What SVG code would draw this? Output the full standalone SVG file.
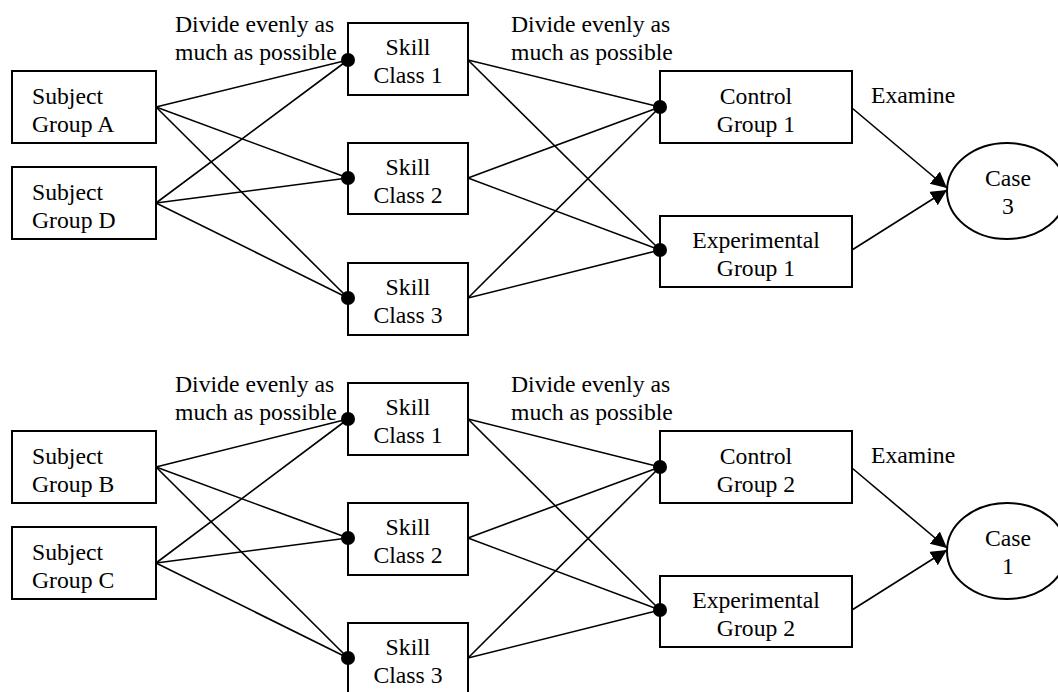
<svg xmlns="http://www.w3.org/2000/svg" width="1058" height="692" viewBox="0 0 1058 692">
  <defs>
    <style>
      .box { fill: #fff; stroke: #000; stroke-width: 2; }
      .lbl { font-family: "Liberation Serif", "Times New Roman", serif; font-size: 23.7px; fill: #000; }
      .mid { text-anchor: middle; }
      .wire { stroke: #000; stroke-width: 1.6; fill: none; }
      .dot { fill: #000; }
    </style>
    <marker id="arrow" markerUnits="userSpaceOnUse" markerWidth="18" markerHeight="18" refX="16" refY="8" orient="auto">
      <path d="M0,0 L16,8 L0,16 z" fill="#000"/>
    </marker>
  </defs>
  <rect width="1058" height="692" fill="#fff"/>

  <!-- edge labels -->
  <g id="labels" class="lbl">
    <text x="175" y="32">Divide evenly as</text>
    <text x="175" y="60">much as possible</text>
    <text x="511" y="32">Divide evenly as</text>
    <text x="511" y="60">much as possible</text>
    <text x="871" y="103">Examine</text>
    <text x="175" y="392">Divide evenly as</text>
    <text x="175" y="420">much as possible</text>
    <text x="511" y="392">Divide evenly as</text>
    <text x="511" y="420">much as possible</text>
    <text x="871" y="463">Examine</text>
  </g>

  <!-- upper network nodes -->
  <g id="subject-a">
    <rect class="box" x="12" y="71" width="144" height="72"/>
    <text class="lbl" x="32" y="104">Subject</text>
    <text class="lbl" x="32" y="132">Group A</text>
  </g>
  <g id="subject-d">
    <rect class="box" x="12" y="167" width="144" height="72"/>
    <text class="lbl" x="32" y="200">Subject</text>
    <text class="lbl" x="32" y="228">Group D</text>
  </g>
  <g id="skill-1-top">
    <rect class="box" x="348" y="23" width="120" height="72"/>
    <text class="lbl mid" x="408" y="55">Skill</text>
    <text class="lbl mid" x="408" y="83">Class 1</text>
  </g>
  <g id="skill-2-top">
    <rect class="box" x="348" y="143" width="120" height="71"/>
    <text class="lbl mid" x="408" y="175">Skill</text>
    <text class="lbl mid" x="408" y="203">Class 2</text>
  </g>
  <g id="skill-3-top">
    <rect class="box" x="348" y="263" width="120" height="72"/>
    <text class="lbl mid" x="408" y="295">Skill</text>
    <text class="lbl mid" x="408" y="323">Class 3</text>
  </g>
  <g id="control-1">
    <rect class="box" x="660" y="71" width="192" height="72"/>
    <text class="lbl mid" x="756" y="104">Control</text>
    <text class="lbl mid" x="756" y="132">Group 1</text>
  </g>
  <g id="experimental-1">
    <rect class="box" x="660" y="216" width="192" height="71"/>
    <text class="lbl mid" x="756" y="248">Experimental</text>
    <text class="lbl mid" x="756" y="276">Group 1</text>
  </g>
  <g id="case-3">
    <ellipse class="box" cx="1007" cy="191" rx="60" ry="48"/>
    <text class="lbl mid" x="1008" y="186">Case</text>
    <text class="lbl mid" x="1008" y="214">3</text>
  </g>

  <!-- lower network nodes -->
  <g id="subject-b">
    <rect class="box" x="12" y="431" width="144" height="72"/>
    <text class="lbl" x="32" y="464">Subject</text>
    <text class="lbl" x="32" y="492">Group B</text>
  </g>
  <g id="subject-c">
    <rect class="box" x="12" y="527" width="144" height="72"/>
    <text class="lbl" x="32" y="560">Subject</text>
    <text class="lbl" x="32" y="588">Group C</text>
  </g>
  <g id="skill-1-bottom">
    <rect class="box" x="348" y="383" width="120" height="72"/>
    <text class="lbl mid" x="408" y="415">Skill</text>
    <text class="lbl mid" x="408" y="443">Class 1</text>
  </g>
  <g id="skill-2-bottom">
    <rect class="box" x="348" y="503" width="120" height="72"/>
    <text class="lbl mid" x="408" y="535">Skill</text>
    <text class="lbl mid" x="408" y="563">Class 2</text>
  </g>
  <g id="skill-3-bottom">
    <rect class="box" x="348" y="623" width="120" height="72"/>
    <text class="lbl mid" x="408" y="655">Skill</text>
    <text class="lbl mid" x="408" y="683">Class 3</text>
  </g>
  <g id="control-2">
    <rect class="box" x="660" y="431" width="192" height="72"/>
    <text class="lbl mid" x="756" y="464">Control</text>
    <text class="lbl mid" x="756" y="492">Group 2</text>
  </g>
  <g id="experimental-2">
    <rect class="box" x="660" y="576" width="192" height="71"/>
    <text class="lbl mid" x="756" y="608">Experimental</text>
    <text class="lbl mid" x="756" y="636">Group 2</text>
  </g>
  <g id="case-1">
    <ellipse class="box" cx="1007" cy="551" rx="60" ry="48"/>
    <text class="lbl mid" x="1008" y="546">Case</text>
    <text class="lbl mid" x="1008" y="574">1</text>
  </g>

  <!-- connectors, drawn over the node outlines so the end dots stay whole -->
  <g id="connectors">
    <!-- upper network: subject groups to skill classes -->
    <line class="wire" x1="156" y1="107" x2="348" y2="60"/>
    <line class="wire" x1="156" y1="107" x2="348" y2="178"/>
    <line class="wire" x1="156" y1="107" x2="348" y2="298"/>
    <line class="wire" x1="156" y1="203" x2="348" y2="60"/>
    <line class="wire" x1="156" y1="203" x2="348" y2="178"/>
    <line class="wire" x1="156" y1="203" x2="348" y2="298"/>
    <!-- upper network: skill classes to control / experimental -->
    <line class="wire" x1="468" y1="60" x2="660" y2="107"/>
    <line class="wire" x1="468" y1="60" x2="660" y2="250"/>
    <line class="wire" x1="468" y1="178" x2="660" y2="107"/>
    <line class="wire" x1="468" y1="178" x2="660" y2="250"/>
    <line class="wire" x1="468" y1="298" x2="660" y2="107"/>
    <line class="wire" x1="468" y1="298" x2="660" y2="250"/>
    <!-- upper network: examine -->
    <line class="wire" x1="852" y1="108" x2="947" y2="188" marker-end="url(#arrow)"/>
    <line class="wire" x1="852" y1="250" x2="947" y2="190" marker-end="url(#arrow)"/>
    <circle class="dot" cx="348" cy="60" r="7"/>
    <circle class="dot" cx="348" cy="178" r="7"/>
    <circle class="dot" cx="348" cy="298" r="7"/>
    <circle class="dot" cx="660" cy="107" r="7"/>
    <circle class="dot" cx="660" cy="250" r="7"/>

    <!-- lower network: subject groups to skill classes -->
    <line class="wire" x1="156" y1="467" x2="348" y2="419"/>
    <line class="wire" x1="156" y1="467" x2="348" y2="538"/>
    <line class="wire" x1="156" y1="467" x2="348" y2="658"/>
    <line class="wire" x1="156" y1="563" x2="348" y2="419"/>
    <line class="wire" x1="156" y1="563" x2="348" y2="538"/>
    <line class="wire" x1="156" y1="563" x2="348" y2="658"/>
    <!-- lower network: skill classes to control / experimental -->
    <line class="wire" x1="468" y1="419" x2="660" y2="467"/>
    <line class="wire" x1="468" y1="419" x2="660" y2="610"/>
    <line class="wire" x1="468" y1="538" x2="660" y2="467"/>
    <line class="wire" x1="468" y1="538" x2="660" y2="610"/>
    <line class="wire" x1="468" y1="658" x2="660" y2="467"/>
    <line class="wire" x1="468" y1="658" x2="660" y2="610"/>
    <!-- lower network: examine -->
    <line class="wire" x1="852" y1="468" x2="947" y2="548" marker-end="url(#arrow)"/>
    <line class="wire" x1="852" y1="610" x2="947" y2="550" marker-end="url(#arrow)"/>
    <circle class="dot" cx="348" cy="419" r="7"/>
    <circle class="dot" cx="348" cy="538" r="7"/>
    <circle class="dot" cx="348" cy="658" r="7"/>
    <circle class="dot" cx="660" cy="467" r="7"/>
    <circle class="dot" cx="660" cy="610" r="7"/>
  </g>
</svg>
